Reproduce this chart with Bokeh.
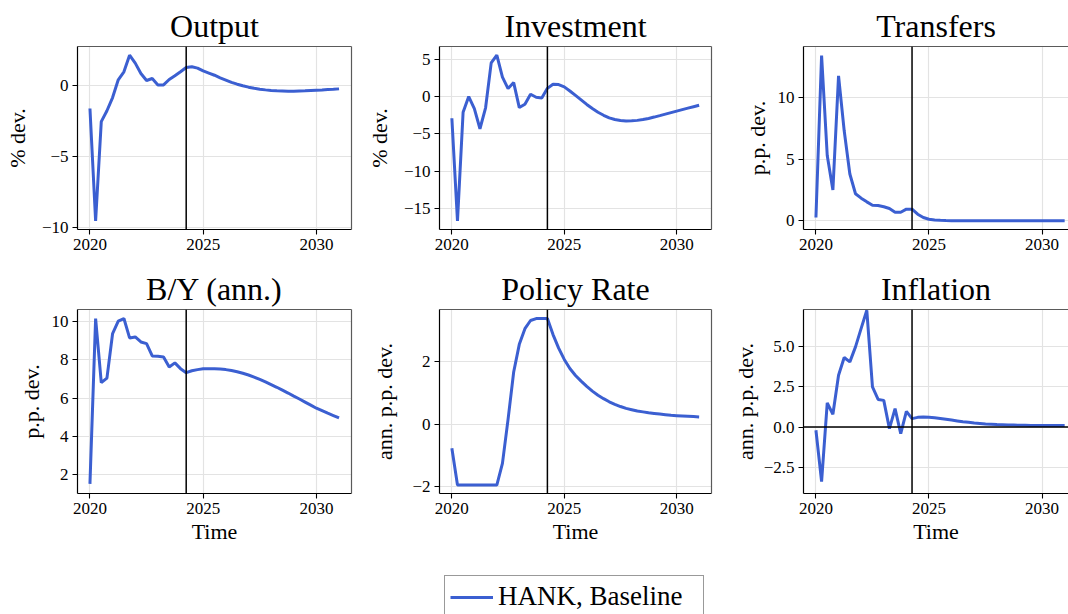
from bokeh.plotting import figure
from bokeh.layouts import column, row
from bokeh.models import Range1d, FixedTicker, Span, Legend, LegendItem, LinearAxis
from bokeh.embed import file_html
from bokeh.resources import INLINE

FONT = "Liberation Serif"
BLUE = "#3b5fd1"

# Quarterly time index, 2020Q1 .. 2031Q1
time = [2020 + q / 4 for q in range(45)]
policy_end = 2024.25

output = [-1.64, -9.55, -2.56, -1.8, -0.87, 0.38, 0.94, 2.11, 1.55, 0.82,
          0.33, 0.47, 0.02, 0.02, 0.4, 0.66, 0.94, 1.24, 1.3, 1.2,
          1.0, 0.85, 0.7, 0.52, 0.36, 0.2, 0.07, -0.04, -0.14, -0.22,
          -0.28, -0.33, -0.37, -0.4, -0.41, -0.42, -0.42, -0.41, -0.4, -0.38,
          -0.36, -0.34, -0.31, -0.29, -0.26]

investment = [-2.9, -16.6, -2.1, 0.0, -1.6, -4.3, -1.5, 4.5, 5.55, 2.6,
              1.07, 1.87, -1.47, -1.02, 0.31, -0.09, -0.18, 1.1, 1.65, 1.6,
              1.3, 0.75, 0.15, -0.45, -1.05, -1.6, -2.1, -2.5, -2.85, -3.07,
              -3.2, -3.26, -3.24, -3.18, -3.07, -2.92, -2.74, -2.55, -2.35, -2.15,
              -1.95, -1.75, -1.55, -1.35, -1.16]

transfers = [0.27, 13.4, 5.3, 2.5, 11.75, 7.3, 3.8, 2.2, 1.84, 1.54,
             1.27, 1.24, 1.14, 1.0, 0.7, 0.7, 0.95, 0.95, 0.54, 0.27,
             0.13, 0.07, 0.04, 0.02, 0.01, 0.0, 0.0, 0.0, 0.0, 0.0,
             0.0, 0.0, 0.0, 0.0, 0.0, 0.0, 0.0, 0.0, 0.0, 0.0,
             0.0, 0.0, 0.0, 0.0, 0.0]

debt_to_gdp = [1.53, 10.14, 6.8, 7.04, 9.36, 10.0, 10.14, 9.13, 9.18, 8.92,
               8.83, 8.19, 8.17, 8.14, 7.62, 7.83, 7.53, 7.32, 7.42, 7.48,
               7.52, 7.53, 7.53, 7.51, 7.48, 7.43, 7.37, 7.29, 7.2, 7.09,
               6.97, 6.84, 6.7, 6.56, 6.41, 6.26, 6.1, 5.95, 5.79, 5.63,
               5.47, 5.34, 5.21, 5.09, 4.97]

policy_rate = [-0.77, -1.94, -1.94, -1.94, -1.94, -1.94, -1.94, -1.94, -1.94, -1.25,
               0.15, 1.66, 2.54, 3.04, 3.3, 3.36, 3.36, 3.36, 2.85, 2.42,
               2.06, 1.77, 1.55, 1.37, 1.2, 1.05, 0.92, 0.81, 0.71, 0.63,
               0.56, 0.5, 0.46, 0.42, 0.39, 0.36, 0.34, 0.32, 0.3, 0.28,
               0.27, 0.26, 0.25, 0.24, 0.23]

inflation = [-0.2, -3.37, 1.49, 0.79, 3.2, 4.3, 4.03, 4.96, 6.1, 7.22,
             2.48, 1.71, 1.65, -0.1, 1.14, -0.41, 0.97, 0.52, 0.6, 0.62,
             0.6, 0.57, 0.53, 0.48, 0.43, 0.38, 0.33, 0.29, 0.25, 0.22,
             0.19, 0.17, 0.15, 0.14, 0.13, 0.12, 0.11, 0.11, 0.1, 0.1,
             0.1, 0.1, 0.1, 0.1, 0.1]

x_ticks = [2020, 2025, 2030]


def fmt(v, decimals=0):
    s = f"{abs(v):.{decimals}f}"
    return ("\u2212" + s) if v < 0 else s


def panel(title, values, y_lo, y_hi, y_ticks, decimals, ylabel, left, frame_w, right,
          x_hi, top, frame_h, bottom, label_standoff, xlabel=None, zero_line=False,
          right_spine=True):
    p = figure(width=left + frame_w + right, height=top + frame_h + bottom,
               x_range=Range1d(2019.45, x_hi), y_range=Range1d(y_lo, y_hi),
               output_backend="svg", toolbar_location=None,
               min_border_left=left, min_border_right=right,
               min_border_top=top, min_border_bottom=bottom)
    p.outline_line_color = None
    p.background_fill_color = "white"
    p.border_fill_color = "white"

    p.title.text = title
    p.title.align = "center"
    p.title.text_font = FONT
    p.title.text_font_size = "32px"
    p.title.text_font_style = "normal"
    p.title.text_color = "black"
    p.title.standoff = 5

    for ax in (p.xaxis[0], p.yaxis[0]):
        ax.axis_line_color = "black"
        ax.axis_line_width = 1.2
        ax.major_tick_line_color = "black"
        ax.major_tick_line_width = 1.1
        ax.major_tick_out = 5
        ax.major_tick_in = 0
        ax.minor_tick_out = 0
        ax.minor_tick_in = 0
        ax.major_label_text_font = FONT
        ax.major_label_text_font_size = "17px"
        ax.major_label_text_color = "black"
        ax.major_label_standoff = 4
        ax.axis_label_text_font = FONT
        ax.axis_label_text_font_size = "22px"
        ax.axis_label_text_font_style = "normal"
        ax.axis_label_text_color = "black"

    p.xaxis.ticker = FixedTicker(ticks=x_ticks, minor_ticks=[])
    p.yaxis.ticker = FixedTicker(ticks=y_ticks, minor_ticks=[])
    p.yaxis.major_label_overrides = {t: fmt(t, decimals) for t in y_ticks}
    p.yaxis.axis_label = ylabel
    p.yaxis.axis_label_standoff = label_standoff
    if xlabel:
        p.xaxis.axis_label = xlabel
        p.xaxis.axis_label_standoff = 2

    # light spines on the top (and right) edges
    sides = ["above"] + (["right"] if right_spine else [])
    for side in sides:
        spine = LinearAxis(ticker=FixedTicker(ticks=[]), axis_line_color="#5a5a5a",
                           axis_line_width=1.2, major_tick_out=0, major_tick_in=0,
                           minor_tick_out=0, minor_tick_in=0)
        p.add_layout(spine, side)

    p.xgrid.grid_line_color = "#e3e3e3"
    p.ygrid.grid_line_color = "#e3e3e3"
    p.xgrid.grid_line_width = 1.2
    p.ygrid.grid_line_width = 1.2

    if zero_line:
        p.add_layout(Span(location=0, dimension="width", line_color="black", line_width=1.5))
    p.add_layout(Span(location=policy_end, dimension="height", line_color="black",
                      line_width=1.5))
    p.line(time, values, line_color=BLUE, line_width=3)
    return p


TOP1, H1, BOT1 = 46, 183, 33
TOP2, H2, BOT2 = 47, 184, 59

p_out = panel("Output", output, -10.15, 2.72, [-10, -5, 0], 0, "% dev.",
              77, 274, 9, 2031.55, TOP1, H1, BOT1, 9)
p_inv = panel("Investment", investment, -17.76, 6.69, [-15, -10, -5, 0, 5], 0, "% dev.",
              79, 272, 9, 2031.55, TOP1, H1, BOT1, 9)
p_tr = panel("Transfers", transfers, -0.7, 14.13, [0, 5, 10], 0, "p.p. dev.",
             83, 265, 0, 2031.17, TOP1, H1, BOT1, 5, right_spine=False)
p_by = panel("B/Y (ann.)", debt_to_gdp, 1.03, 10.61, [2, 4, 6, 8, 10], 0, "p.p. dev.",
             77, 274, 9, 2031.55, TOP2, H2, BOT2, 5, xlabel="Time")
p_pr = panel("Policy Rate", policy_rate, -2.21, 3.65, [-2, 0, 2], 0, "ann. p.p. dev.",
             79, 272, 9, 2031.55, TOP2, H2, BOT2, 12, xlabel="Time")
p_inf = panel("Inflation", inflation, -4.11, 7.27, [-2.5, 0.0, 2.5, 5.0], 1,
              "ann. p.p. dev.", 83, 265, 0, 2031.17, TOP2, H2, BOT2, 3, xlabel="Time",
              zero_line=True, right_spine=False)

# Legend strip below the panels
leg_h = 614 - (TOP1 + H1 + BOT1) - (TOP2 + H2 + BOT2)
p_leg = figure(width=1068, height=leg_h, x_range=Range1d(0, 1), y_range=Range1d(0, 1),
               output_backend="svg", toolbar_location=None,
               min_border_left=0, min_border_right=0, min_border_top=0, min_border_bottom=0)
p_leg.axis.visible = False
p_leg.grid.visible = False
p_leg.outline_line_color = None
r = p_leg.line(time, output, line_color=BLUE, line_width=3)
legend = Legend(items=[LegendItem(label="HANK, Baseline", renderers=[r])],
                location=(444, -4), orientation="vertical",
                label_text_font=FONT, label_text_font_size="27px",
                label_text_color="black", glyph_width=43, glyph_height=20,
                label_standoff=5, label_width=200, padding=5, margin=0, spacing=0,
                border_line_color="#333333", border_line_width=1.2,
                background_fill_color="white", background_fill_alpha=1.0)
p_leg.add_layout(legend, "center")

layout = column(row(p_out, p_inv, p_tr, spacing=0),
                row(p_by, p_pr, p_inf, spacing=0),
                p_leg, spacing=0)

open("out.html", "w").write(file_html(layout, INLINE))
